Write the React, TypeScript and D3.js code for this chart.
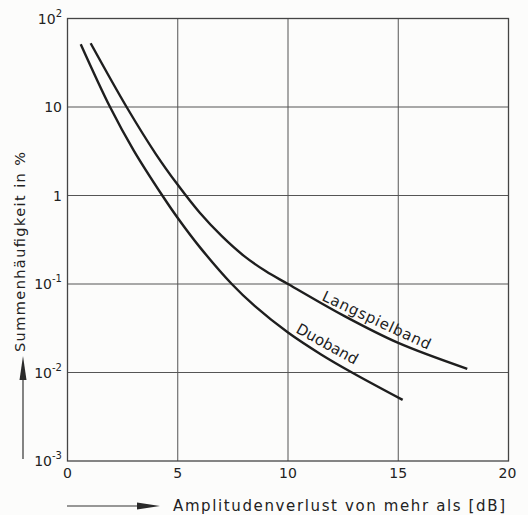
import React from "react";
import * as d3 from "d3";

const xTicks = [0, 5, 10, 15, 20];
const yExponents = [-3, -2, -1, 0, 1, 2];

const duobandX = [0.6, 1.93, 3.0, 4.3, 5.0, 6.0, 7.45, 8.5, 10.0, 11.5, 12.9, 15.2];
const duobandY = [51.3, 10, 3.24, 1, 0.557, 0.261, 0.1, 0.0562, 0.0283, 0.016, 0.01, 0.0049];

const langX = [1.05, 2.68, 4.0, 5.0, 6.0, 7.0, 8.0, 9.0, 10.0, 12.5, 15.0, 18.13];
const langY = [52.5, 10, 2.96, 1.32, 0.638, 0.347, 0.208, 0.139, 0.1, 0.0442, 0.0216, 0.011];

const W = 528;
const H = 515;
const FONT = "'DejaVu Sans', sans-serif";

export default function App() {
  const x = d3.scaleLinear().domain([0, 20]).range([67.5, 508.5]);
  const y = d3.scaleLog().domain([1e-3, 1e2]).range([461, 18.5]);

  const line = d3
    .line<[number, number]>()
    .x((d) => x(d[0]))
    .y((d) => y(d[1]))
    .curve(d3.curveCatmullRom.alpha(0.5));

  const duo = duobandX.map((v, i) => [v, duobandY[i]] as [number, number]);
  const lang = langX.map((v, i) => [v, langY[i]] as [number, number]);

  const labelFor = (e: number) => {
    if (e === 0) return { base: "1", sup: "" };
    if (e === 1) return { base: "10", sup: "" };
    return { base: "10", sup: String(e) };
  };

  return (
    <svg
      width={W}
      height={H}
      style={{ position: "absolute", left: 0, top: 0, background: "#fcfcfb" }}
    >
      {/* grid */}
      {xTicks.slice(1, -1).map((t) => (
        <line key={"gx" + t} x1={x(t)} x2={x(t)} y1={y(1e2)} y2={y(1e-3)} stroke="#555" strokeWidth={1} />
      ))}
      {yExponents.slice(1, -1).map((e) => (
        <line key={"gy" + e} x1={x(0)} x2={x(20)} y1={y(Math.pow(10, e))} y2={y(Math.pow(10, e))} stroke="#555" strokeWidth={1} />
      ))}
      {/* frame */}
      <rect x={x(0)} y={y(1e2)} width={x(20) - x(0)} height={y(1e-3) - y(1e2)} fill="none" stroke="#444" strokeWidth={1.3} />

      {/* curves */}
      <path d={line(duo) || ""} fill="none" stroke="#1e1e1e" strokeWidth={2.4} />
      <path d={line(lang) || ""} fill="none" stroke="#1e1e1e" strokeWidth={2.4} />

      {/* curve labels */}
      <text transform="translate(321,300) rotate(25)" fontFamily={FONT} fontSize={15} fill="#1e1e1e" textLength={118} lengthAdjust="spacing">
        Langspielband
      </text>
      <text transform="translate(295,332) rotate(29)" fontFamily={FONT} fontSize={15} fill="#1e1e1e" textLength={68} lengthAdjust="spacing">
        Duoband
      </text>

      {/* x tick labels */}
      {xTicks.map((t) => (
        <text key={"xt" + t} x={x(t) + (t === 20 ? -1 : 0)} y={478} textAnchor="middle" fontFamily={FONT} fontSize={14} fill="#222">
          {t}
        </text>
      ))}

      {/* y tick labels */}
      {yExponents.map((e) => {
        const l = labelFor(e);
        const yy = y(Math.pow(10, e)) + 5;
        return (
          <text key={"yt" + e} x={62} y={yy} textAnchor="end" fontFamily={FONT} fontSize={14} fill="#222">
            {l.base}
            {l.sup && (
              <tspan dy={-7} fontSize={10}>
                {l.sup}
              </tspan>
            )}
          </text>
        );
      })}

      {/* y axis label + arrow */}
      <text transform="translate(25,352) rotate(-90)" fontFamily={FONT} fontSize={14.5} fill="#222" textLength={200} lengthAdjust="spacing">
        Summenhäufigkeit in %
      </text>
      <line x1={23} x2={23} y1={459} y2={375} stroke="#333" strokeWidth={1.2} />
      <path d="M23,356 L26.5,380 L19.5,380 Z" fill="#2a2a2a" />

      {/* x axis label + arrow */}
      <line x1={67} x2={142} y1={506} y2={506} stroke="#333" strokeWidth={1.2} />
      <path d="M160,506 L137,502.5 L137,509.5 Z" fill="#2a2a2a" />
      <text x={173} y={511} fontFamily={FONT} fontSize={15} fill="#222" textLength={332} lengthAdjust="spacing">
        Amplitudenverlust von mehr als [dB]
      </text>
    </svg>
  );
}
